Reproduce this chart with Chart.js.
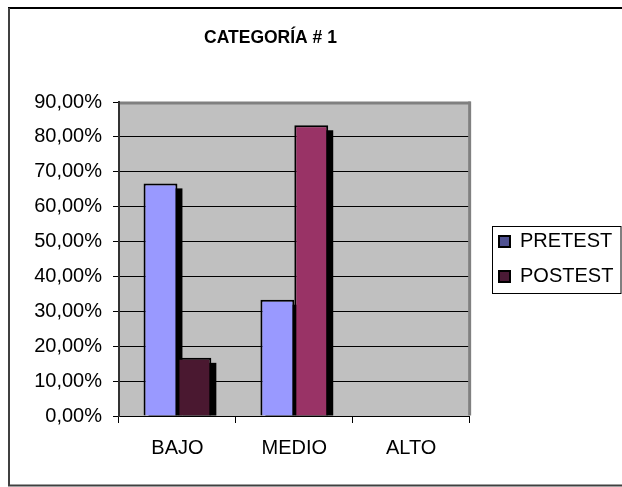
<!DOCTYPE html>
<html>
<head>
<meta charset="utf-8">
<style>
  html, body { margin: 0; padding: 0; background: #ffffff; }
  #wrap { width: 622px; height: 487px; position: relative; }
</style>
<script src="https://cdn.jsdelivr.net/npm/chart.js@4.4.1/dist/chart.umd.min.js"></script>
</head>
<body>
<div id="wrap"><canvas id="c" width="622" height="487"></canvas></div>
<script>
// ---- data ----
const chartTitle = 'CATEGORÍA # 1';
const categories = ['BAJO', 'MEDIO', 'ALTO'];
const seriesNames = ['PRETEST', 'POSTEST'];
const pretestValues = [66.67, 33.33, 0];
const postestValues = [16.67, 83.33, 0];
const yMin = 0;
const yMax = 90;
const yStep = 10;

// ---- styles ----
const FONT = "'Liberation Sans', Arial, sans-serif";
const LABEL_SIZE = 20;
const pretestColor = '#9999FF';
const postestColors = ['#4A1830', '#993366', '#993366'];
const legendSwatches = ['#4F5191', '#4A1A35'];
const plotBg = '#C0C0C0';

const fmtPct = v => Number(v).toFixed(2).replace('.', ',') + '%';

const decorPlugin = {
  id: 'decor',
  afterLayout(chart) {
    const lg = chart.legend;
    if (lg) {
      const shift = 499 - (lg.left + lg.options.labels.padding);
      lg.left += shift; lg.right += shift;
    }
    const tb = chart.titleBlock;
    if (tb) { tb.left = 0; tb.right = 541; }
  },
  beforeDraw(chart) {
    const {ctx, chartArea: a} = chart;
    ctx.save();
    ctx.fillStyle = plotBg;
    ctx.fillRect(a.left, a.top, a.right - a.left, a.bottom - a.top);
    ctx.restore();
  },
  beforeDatasetsDraw(chart) {
    const {ctx, chartArea: a} = chart;
    ctx.save();
    ctx.fillStyle = '#808080';
    ctx.fillRect(a.left + 1, a.top - 0.5, a.right - a.left, 3);
    ctx.fillRect(a.right - 1.5, a.top - 0.5, 3, a.bottom - a.top);
    ctx.fillStyle = '#000000';
    chart.data.datasets.forEach((ds, di) => {
      const meta = chart.getDatasetMeta(di);
      meta.data.forEach(el => {
        const p = el.getProps(['x', 'y', 'base', 'width'], true);
        const h = p.base - p.y;
        if (h < 1) return;
        ctx.fillRect(p.x - p.width / 2 + 5, p.y + 5, p.width, h - 5);
      });
    });
    ctx.restore();
  },
  afterDraw(chart) {
    const {ctx} = chart;
    ctx.save();
    ctx.strokeStyle = '#000000';
    ctx.lineWidth = 2;
    ctx.beginPath(); ctx.moveTo(8, 8); ctx.lineTo(622, 8); ctx.stroke();
    ctx.strokeStyle = '#404040';
    ctx.beginPath(); ctx.moveTo(9, 8); ctx.lineTo(9, 486); ctx.stroke();
    ctx.beginPath(); ctx.moveTo(8, 485.5); ctx.lineTo(622, 485.5); ctx.stroke();
    const lg = chart.legend;
    if (lg) {
      const pad = lg.options.labels.padding;
      const itemH = LABEL_SIZE;
      const colH = 2 * (itemH + pad);
      const firstTop = (lg.top + pad + lg.bottom - colH) / 2;
      const x0 = Math.round(lg.left + pad - 7);
      const y0 = Math.round(firstTop - 5.5);
      const y1 = Math.round(firstTop + (itemH + pad) + itemH + 6.5);
      ctx.strokeStyle = '#000000';
      ctx.lineWidth = 1;
      ctx.strokeRect(x0 + 0.5, y0 + 0.5, 621 - x0 - 0.5, y1 - y0);
    }
    ctx.restore();
  }
};

new Chart(document.getElementById('c'), {
  type: 'bar',
  data: {
    labels: categories,
    datasets: [
      {
        label: seriesNames[0],
        data: pretestValues,
        backgroundColor: pretestColor,
        borderColor: '#000000',
        borderWidth: 2,
        barPercentage: 1.0,
        categoryPercentage: 0.58
      },
      {
        label: seriesNames[1],
        data: postestValues,
        backgroundColor: postestColors,
        borderColor: '#000000',
        borderWidth: 2,
        barPercentage: 1.0,
        categoryPercentage: 0.58
      }
    ]
  },
  options: {
    responsive: false,
    animation: false,
    events: [],
    layout: { padding: { left: 0, right: 13, top: 0, bottom: 0 } },
    plugins: {
      tooltip: { enabled: false },
      title: {
        display: true,
        text: chartTitle,
        color: '#000000',
        font: { family: FONT, size: 17.5, weight: 'bold' },
        padding: { top: 28, bottom: 53 }
      },
      legend: {
        display: true,
        position: 'right',
        fullSize: false,
        labels: {
          color: '#000000',
          font: { family: FONT, size: LABEL_SIZE },
          boxWidth: 11,
          boxHeight: 11,
          padding: 15,
          generateLabels: (chart) => chart.data.datasets.map((ds, i) => ({
            text: ds.label,
            fillStyle: legendSwatches[i],
            strokeStyle: '#000000',
            lineWidth: 2,
            fontColor: '#000000',
            datasetIndex: i,
            hidden: false
          }))
        }
      }
    },
    scales: {
      x: {
        offset: true,
        grid: { display: true, drawOnChartArea: false, drawTicks: true, tickLength: 7, tickColor: '#000000', offset: true },
        border: { display: true, color: '#000000', width: 1 },
        ticks: { color: '#000000', font: { family: FONT, size: LABEL_SIZE }, padding: 13, maxRotation: 0 },
        afterFit(scale) { scale.height = 487 - 416; }
      },
      y: {
        min: yMin,
        max: yMax,
        grid: { color: '#000000', lineWidth: 1, tickLength: 6, tickColor: '#000000' },
        border: { display: true, color: '#333333', width: 2 },
        ticks: {
          stepSize: yStep,
          color: '#000000',
          font: { family: FONT, size: LABEL_SIZE },
          padding: 11,
          callback: (v) => fmtPct(v)
        },
        afterFit(scale) { scale.width = 119; }
      }
    }
  },
  plugins: [decorPlugin]
});
</script>
</body>
</html>
